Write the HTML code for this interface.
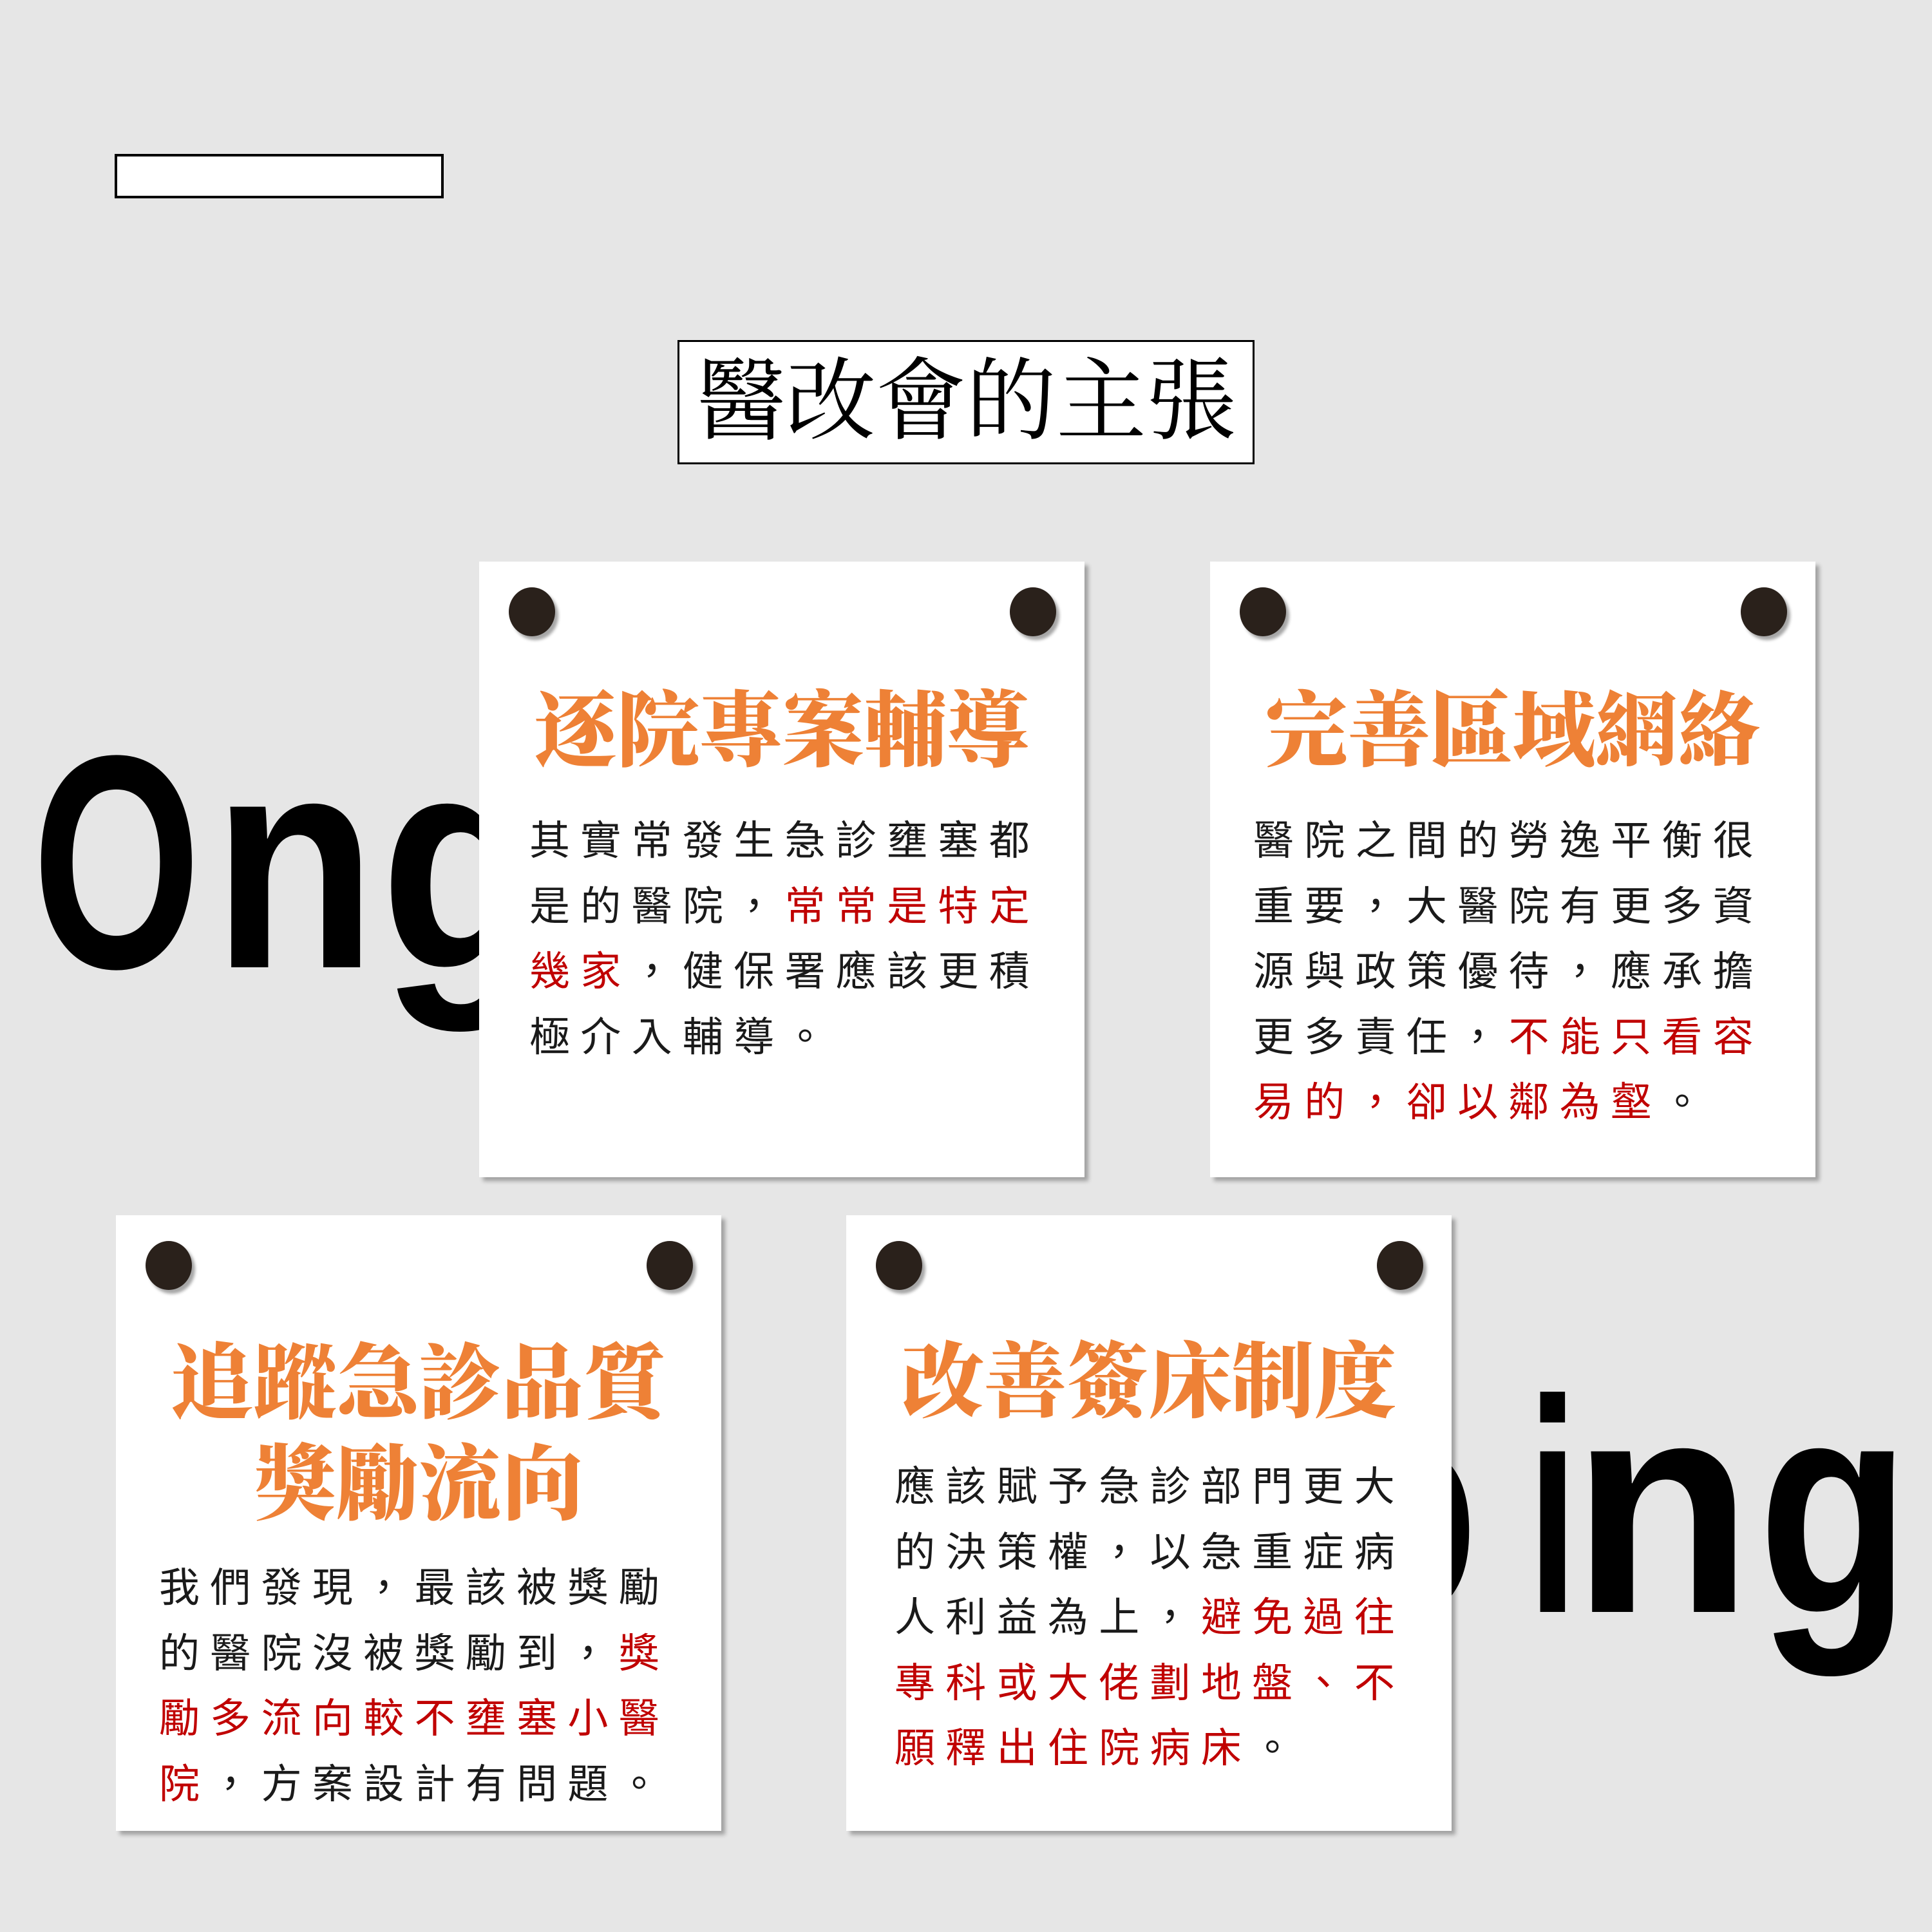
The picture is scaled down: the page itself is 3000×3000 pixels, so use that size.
<!DOCTYPE html>
<html><head><meta charset="utf-8"><style>
html,body{margin:0;padding:0}
body{width:3000px;height:3000px;background:#e6e6e6;position:relative;overflow:hidden;font-family:"Liberation Sans","Noto Sans CJK TC",sans-serif}
.abs{position:absolute}
.card{position:absolute;width:940px;height:956px;background:#fff;box-shadow:6px 6px 6px rgba(0,0,0,.3)}
.pin{position:absolute;width:72px;height:76px;border-radius:50%;background:#2a211b;top:40px;box-shadow:5px 6px 5px rgba(0,0,0,.35)}
.pin.l{left:46px}.pin.r{left:824px}
.h{position:absolute;left:0;width:940px;text-align:center;font-family:"Liberation Serif","Noto Serif CJK SC",serif;font-weight:900;color:#ee8136;font-size:128px;line-height:157px;white-space:nowrap}
.b{position:absolute;font-family:"Liberation Sans","Noto Sans CJK TC",sans-serif;font-size:63px;line-height:101.5px;letter-spacing:16.3px;color:#1a1a1a;white-space:nowrap}
.r{color:#c00000}
</style></head><body>
<div class="abs" style="left:178px;top:239px;width:503px;height:61px;border:4px solid #000;background:#fff"></div>
<div class="abs" style="left:1052px;top:528px;width:890px;height:187px;border:3px solid #000;background:#fff;text-align:center;font-family:'Liberation Serif','Noto Serif CJK SC',serif;font-size:140px;line-height:187px;color:#000;white-space:nowrap">醫改會的主張</div>

<svg class="abs" style="left:0;top:0" width="3000" height="3000">
<g font-family="Liberation Sans, sans-serif" font-weight="bold" font-size="472" fill="#000">
<text x="50" y="1502" textLength="262" lengthAdjust="spacingAndGlyphs">O</text>
<text x="330" y="1502" textLength="255" lengthAdjust="spacingAndGlyphs">n</text>
<text x="590" y="1502" textLength="260" lengthAdjust="spacingAndGlyphs">g</text>
<text x="2020" y="2503" textLength="280" lengthAdjust="spacingAndGlyphs">p</text>
<text x="2372" y="2503" textLength="78" lengthAdjust="spacingAndGlyphs">i</text>
<text x="2440" y="2503" textLength="282" lengthAdjust="spacingAndGlyphs">n</text>
<text x="2730" y="2503" textLength="236" lengthAdjust="spacingAndGlyphs">g</text>
</g></svg>

<div class="card" style="left:744px;top:872px">
<div class="pin l"></div><div class="pin r"></div>
<div class="h" style="top:186px">逐院專案輔導</div>
<div class="b" style="left:78px;top:384px">其實常發生急診壅塞都<br>是的醫院，<span class="r">常常是特定</span><br><span class="r">幾家</span>，健保署應該更積<br>極介入輔導。</div>
</div>

<div class="card" style="left:1879px;top:872px">
<div class="pin l"></div><div class="pin r"></div>
<div class="h" style="top:186px">完善區域網絡</div>
<div class="b" style="left:67px;top:384px">醫院之間的勞逸平衡很<br>重要，大醫院有更多資<br>源與政策優待，應承擔<br>更多責任，<span class="r">不能只看容</span><br><span class="r">易的，卻以鄰為壑</span>。</div>
</div>

<div class="card" style="left:180px;top:1887px">
<div class="pin l"></div><div class="pin r"></div>
<div class="h" style="top:184px">追蹤急診品質<br>獎勵流向</div>
<div class="b" style="left:67px;top:529px">我們發現，最該被獎勵<br>的醫院沒被獎勵到，<span class="r">獎</span><br><span class="r">勵多流向較不壅塞小醫</span><br><span class="r">院</span>，方案設計有問題。</div>
</div>

<div class="card" style="left:1314px;top:1887px">
<div class="pin l"></div><div class="pin r"></div>
<div class="h" style="top:182px">改善簽床制度</div>
<div class="b" style="left:75px;top:372px">應該賦予急診部門更大<br>的決策權，以急重症病<br>人利益為上，<span class="r">避免過往</span><br><span class="r">專科或大佬劃地盤、不</span><br><span class="r">願釋出住院病床</span>。</div>
</div>
</body></html>
